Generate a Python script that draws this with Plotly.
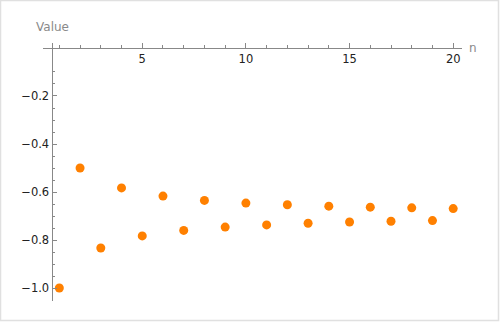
import plotly.graph_objects as go

# Data
n_values = list(range(1, 21))
values = [-1.000, -0.500, -0.833, -0.583, -0.783, -0.617, -0.760, -0.635,
          -0.746, -0.646, -0.737, -0.653, -0.730, -0.659, -0.725, -0.663,
          -0.722, -0.666, -0.719, -0.669]

x_ticks = [5, 10, 15, 20]
y_ticks = [-1.0, -0.8, -0.6, -0.4, -0.2]

W, H = 500, 323
axis_color = "#888888"
label_color = "#222222"
font_family = "DejaVu Sans"

fig = go.Figure()
fig.add_trace(go.Scatter(
    x=n_values, y=values, mode="markers",
    marker=dict(color="#ff8000", size=9, line=dict(width=0)),
    showlegend=False, hoverinfo="x+y",
))

fig.update_layout(
    width=W, height=H,
    margin=dict(l=0, r=0, t=0, b=0),
    paper_bgcolor="white", plot_bgcolor="white",
    font=dict(family=font_family, size=11, color=label_color),
    xaxis=dict(
        domain=[43.3 / W, 461.7 / W],
        range=[0.227, 20.41],
        anchor="free", position=1 - 48 / H,
        side="top",
        showgrid=False, zeroline=False,
        showline=True, linecolor=axis_color, linewidth=1,
        tickmode="array", tickvals=x_ticks,
        ticks="outside", ticklen=5, tickcolor=axis_color, tickwidth=1,
        ticklabelposition="inside", ticklabelstandoff=5,
        tickfont=dict(family=font_family, size=11.5, color=label_color),
        minor=dict(dtick=1, tick0=0, ticks="outside", ticklen=3,
                   tickcolor=axis_color, showgrid=False),
    ),
    yaxis=dict(
        domain=[1 - 301 / H, 1 - 43.3 / H],
        range=[-1.054, 0.0195],
        anchor="free", position=51.5 / W,
        showgrid=False, zeroline=False,
        showline=True, linecolor=axis_color, linewidth=1,
        tickmode="array", tickvals=y_ticks, tickformat=".1f",
        ticks="inside", ticklen=4, tickcolor=axis_color, tickwidth=1,
        tickfont=dict(family=font_family, size=11.5, color=label_color),
        minor=dict(dtick=0.05, tick0=0, ticks="inside", ticklen=2,
                   tickcolor=axis_color, showgrid=False),
    ),
    shapes=[dict(type="rect", xref="paper", yref="paper",
                 x0=0.5 / W, x1=1 - 1.5 / W, y0=2.5 / H, y1=1 - 0.5 / H,
                 line=dict(color="#e0e0e0", width=1.5))],
    annotations=[
        dict(text="Value", xref="paper", yref="paper",
             x=34 / W, y=1 - 27 / H, xanchor="left", yanchor="middle",
             showarrow=False, font=dict(family=font_family, size=12, color="#8a8a8a")),
        dict(text="n", xref="paper", yref="paper",
             x=467 / W, y=1 - 48 / H, xanchor="left", yanchor="middle",
             showarrow=False, font=dict(family=font_family, size=12, color="#8a8a8a")),
    ],
)

fig.write_html("out.html")
